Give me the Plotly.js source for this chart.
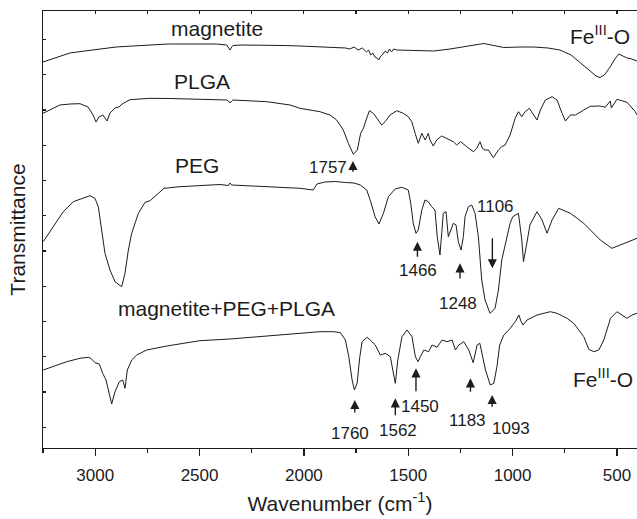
<!DOCTYPE html>
<html>
<head>
<meta charset="utf-8">
<script src="https://cdn.plot.ly/plotly-3.0.1.min.js"></script>
<style>
html,body{margin:0;padding:0;background:#fff;overflow:hidden;}
#chart{width:637px;height:519px;}
</style>
</head>
<body>
<div id="chart"></div>
<script>
// ---- Data (wavenumber in cm^-1, transmittance in arbitrary units, curves offset) ----
const magnetiteWn = [3250,3180,3121,3050,2977,2900,2820,2737,2650,2560,2498,2420,2370,2362,2354,2346,2340,2300,2210,2100,2019,1937,1860,1800,1780,1760,1740,1720,1700,1690,1680,1670,1660,1650,1642,1635,1625,1610,1600,1590,1580,1570,1554,1500,1450,1378,1300,1220,1138,1090,1042,960,899,830,773,720,691,660,629,600,581,560,533,510,491,470,452,430,404];
const magnetiteT  = [386,391,395,397,399,401,402,403,404,404,404,404,403,401,398,401,402.5,403,403,402.5,402,401.5,401,400,399,401,398,400,396,398,393,395,391,390,388,391,393,397,395,399,396,399,398,397.5,397,397,399,402,404.5,402.5,400.5,401,401,400,398,393,388,382,377,372,370.5,373,381,389,394,392,390,389,387];

const plgaWn = [3250,3169,3121,3073,3034,3010,2996,2982,2963,2943,2929,2905,2886,2871,2833,2785,2737,2641,2498,2370,2362,2354,2346,2340,2178,2066,2019,1923,1875,1843,1811,1787,1763,1744,1728,1715,1702,1686,1667,1651,1627,1611,1587,1555,1524,1500,1483,1467,1452,1435,1419,1404,1396,1380,1364,1340,1316,1284,1268,1249,1220,1188,1172,1156,1145,1132,1116,1092,1068,1052,1036,1012,988,972,956,940,920,883,867,843,811,787,763,747,723,699,659,628,580,556,532,527,500,452,412,404];
const plgaT  = [334.7,343,344,344.3,341,333,326,331,333,327,335,340,341,344,348.3,349.3,349.7,349.5,349,348,347,345,347,348,346.3,343,339.7,336.3,333,328,318,304.7,293.7,298,314.7,319.7,328,337.3,334.7,329.7,323,326.3,333,337.3,334.7,331.3,326.3,314.7,304.7,314.7,308,314.7,308,302,308,312,309.7,306.3,303,306.3,301.3,296.3,299.7,306.3,299.7,298,298,290.3,298,301.3,303,313,329.7,336.3,331.3,336.3,339.7,328,338,348,351.3,348,334.7,327,333,333,338,341.7,342,340.7,347,340,348.7,345.7,336.3,333];

const pegWn = [3249,3201,3153,3105,3057,3025,3001,2985,2969,2953,2929,2905,2873,2857,2841,2825,2793,2761,2737,2705,2670,2594,2480,2402,2362,2354,2346,2178,2019,1956,1937,1900,1850,1800,1760,1730,1699,1680,1659,1640,1619,1595,1563,1531,1500,1488,1476,1463,1452,1435,1420,1404,1388,1372,1361,1348,1337,1332,1319,1308,1296,1284,1271,1260,1247,1236,1228,1212,1196,1180,1164,1148,1132,1108,1084,1068,1052,1041,1028,1012,999,972,956,948,932,917,883,859,835,811,779,723,659,580,524,484,436,404];
const pegT  = [206.3,221.3,236.3,246.3,250.3,252.3,249.7,241.3,218,194.7,178,166.3,161.3,174.7,198,214.7,234.7,245.7,247.3,253,259.7,261.3,262.5,263.5,262.5,265,263,261.3,259.7,258,264,266,266.5,265.5,265,263,258,246.3,231.3,224,234.7,251.3,259,260.7,258,244.7,224.7,214.7,218,238,248,246.3,241.3,238,211.3,193,218,234.7,236.3,211.3,218,224.7,223,206.3,198,211.3,231.3,241.3,243,234.7,211.3,168,148,134.7,139.7,158,188,198,209.7,224.7,231.3,234.7,208,186.3,204.7,223,236.3,228,214.7,228,239.7,234.7,224.7,208,199.7,203,206.3,209.7];

const compWn = [3249,3184,3136,3073,3033,3021,3001,2980,2964,2948,2937,2921,2905,2884,2868,2857,2846,2825,2801,2753,2657,2498,2354,2178,2019,1923,1857,1825,1801,1785,1769,1758,1745,1732,1721,1697,1682,1658,1634,1610,1586,1573,1562,1550,1530,1506,1482,1466,1453,1442,1425,1402,1386,1362,1338,1314,1290,1274,1258,1234,1210,1189,1170,1157,1146,1130,1107,1090,1075,1062,1042,1018,987,970,959,950,931,883,819,787,739,707,659,635,611,587,563,531,500,476,452,428,404];
const compT  = [78,83,86.3,89.7,90.7,89.7,85.3,84,74.7,68,58,44,56.3,66.3,68,59.7,78,88,93,98,102,107.3,109,112,114,116.3,116.3,115.3,108,91.3,68,58,64.7,91.3,106.3,110.7,108,103,93,94.7,91.3,78,64.7,88,111.3,118,111.3,91.3,86.3,91.3,98,96.3,103,100.7,108,106.3,108,98,103,106.3,98,85.3,103,104.7,94.7,78,63,64.7,81.3,103,113,118,126.3,133,126.3,123,128,133,136.3,134.7,129.7,124.7,111.3,98.7,96.3,98,108,129.7,136.3,133,129.7,133,134.7];

const seriesNames = ['magnetite','PLGA','PEG','magnetite+PEG+PLGA'];

// ---- Text labels ----
const curveLabels = ['magnetite','PLGA','PEG','magnetite+PEG+PLGA','Fe<sup>III</sup>-O','Fe<sup>III</sup>-O'];
const curveLabelX = [2418,2490,2513,2373,583,568];
const curveLabelY = [419.7,366.3,283,139.7,413,69.7];

const peakLabels = ['1757','1466','1248','1106','1760','1562','1450','1183','1093'];
const peakLabelX = [1884,1452,1260,1084,1781,1550,1446,1214,1007];
const peakLabelY = [281,178,144.7,241.3,14.7,17.3,41.3,28,19.7];
const arrowX     = [1765,1456,1252,1097,1756,1562,1463,1202,1098];
const arrowHeadY = [287,206.3,184.7,179.7,48,49.7,79.7,69.7,53];
const arrowTailY = [274.7,189.7,168,211.3,34,31.3,55.3,54.7,39.7];

// ---- Build ----
const FONT = 'Liberation Sans, Arial, Helvetica, sans-serif';
const INK = '#1c1c1c';
const xs = [magnetiteWn, plgaWn, pegWn, compWn];
const ys = [magnetiteT, plgaT, pegT, compT];
const traces = seriesNames.map((n,i)=>({
  type:'scatter', mode:'lines', name:n, x:xs[i], y:ys[i],
  line:{color:INK, width:1}, showlegend:false, hoverinfo:'skip'
}));
traces.push({type:'scatter', mode:'lines', x:[], y:[], xaxis:'x2', yaxis:'y', showlegend:false, hoverinfo:'skip'});

const annotations = [];
curveLabels.forEach((t,i)=>annotations.push({
  x:curveLabelX[i], y:curveLabelY[i], xref:'x', yref:'y', text:t, showarrow:false,
  font:{family:FONT, size:21, color:INK}, xanchor:'center', yanchor:'middle'
}));
peakLabels.forEach((t,i)=>annotations.push({
  x:peakLabelX[i], y:peakLabelY[i], xref:'x', yref:'y', text:t, showarrow:false,
  font:{family:FONT, size:17, color:INK}, xanchor:'center', yanchor:'middle'
}));
arrowX.forEach((ax,i)=>annotations.push({
  x:ax, y:arrowHeadY[i], xref:'x', yref:'y', ax:ax, ay:arrowTailY[i], axref:'x', ayref:'y',
  text:'', showarrow:true, arrowhead:2, arrowsize:1.3, arrowwidth:1.4, arrowcolor:INK,
  standoff:0, startstandoff:0
}));

const XR = [3250, 404];
const layout = {
  width:637, height:519,
  margin:{l:43, r:0, t:11, b:71, pad:0},
  paper_bgcolor:'#fff', plot_bgcolor:'#fff',
  font:{family:FONT, color:INK},
  xaxis:{
    range:XR, showgrid:false, zeroline:false,
    showline:true, linecolor:INK, linewidth:1.3, mirror:true,
    ticks:'outside', ticklen:7, tickwidth:1.3, tickcolor:INK,
    tick0:0, dtick:500, ticklabelstandoff:4,
    minor:{dtick:250, ticks:'outside', ticklen:4, tickwidth:1.3, tickcolor:INK, showgrid:false},
    tickfont:{family:FONT, size:17, color:INK},
    title:{text:'Wavenumber (cm<sup>-1</sup>)', font:{family:FONT, size:21, color:INK}, standoff:12}
  },
  xaxis2:{
    range:XR, overlaying:'x', side:'top', anchor:'y',
    showgrid:false, zeroline:false, showline:false, showticklabels:false,
    ticks:'inside', ticklen:3, tickwidth:1.2, tickcolor:INK, tick0:0, dtick:250
  },
  yaxis:{
    range:[0,437], showgrid:false, zeroline:false,
    showline:true, linecolor:INK, linewidth:1.3,
    ticks:'inside', ticklen:3, tickwidth:1.2, tickcolor:INK,
    tick0:20.7, dtick:35.25, showticklabels:false,
    title:{text:'Transmittance', font:{family:FONT, size:21, color:INK}, standoff:10}
  },
  annotations:annotations
};
Plotly.newPlot('chart', traces, layout, {staticPlot:true, displayModeBar:false});
</script>
</body>
</html>
